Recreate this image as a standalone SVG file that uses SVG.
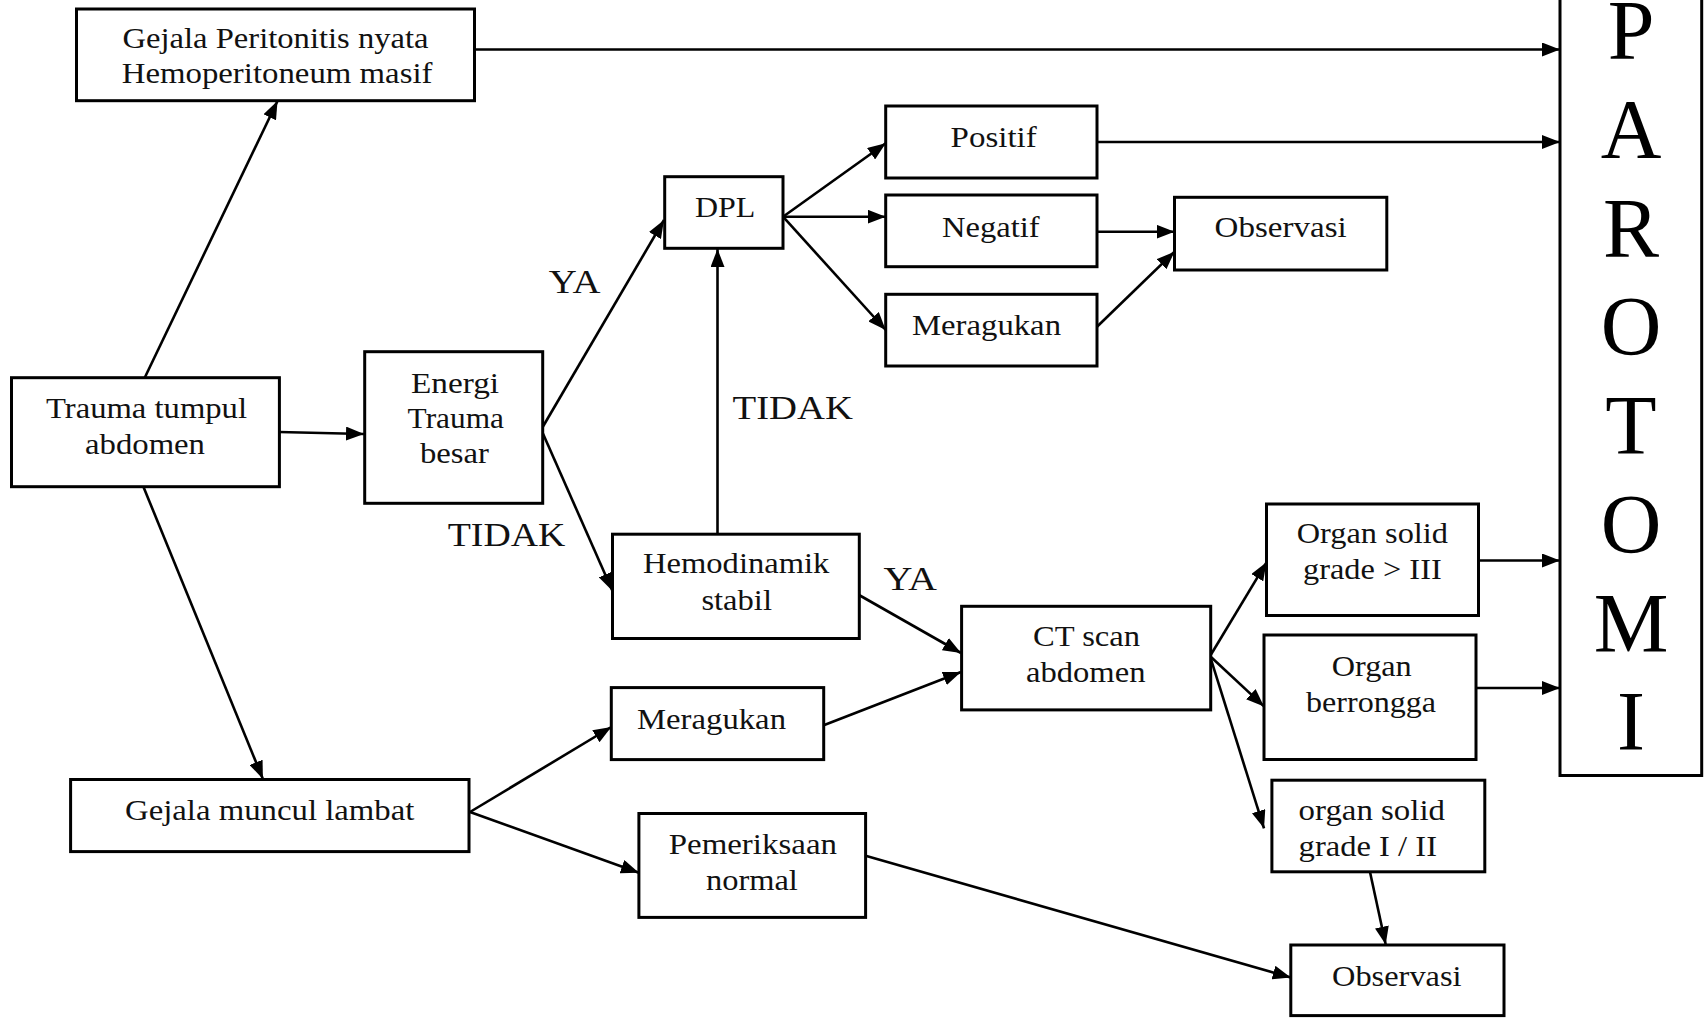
<svg xmlns="http://www.w3.org/2000/svg" width="1705" height="1018" viewBox="0 0 1705 1018">
<style>
.box{fill:#fff;stroke:#000;stroke-width:3}
.c{fill:none;stroke:#000;stroke-width:2.6}
.t{font-family:"Liberation Serif","Times New Roman",serif;font-size:29px;fill:#111}
.lbl{font-family:"Liberation Serif","Times New Roman",serif;font-size:34px;fill:#111}
.big{font-family:"Liberation Serif","Times New Roman",serif;font-size:84px;fill:#000;text-anchor:middle}
</style>
<defs>
<marker id="ah" markerUnits="userSpaceOnUse" markerWidth="20" markerHeight="14" refX="18" refY="7" orient="auto">
<path d="M0,0 L18,7 L0,14 Z" fill="#000"/>
</marker>
</defs>
<rect width="1705" height="1018" fill="#fff"/>
<g id="connectors">
<path class="c" marker-end="url(#ah)" d="M144.7,377.7 L277.5,101"/>
<path class="c" marker-end="url(#ah)" d="M279,432 L364,434"/>
<path class="c" marker-end="url(#ah)" d="M143.5,487 L262.9,779"/>
<path class="c" marker-end="url(#ah)" d="M474.5,49.5 L1560,49.5"/>
<path class="c" marker-end="url(#ah)" d="M542.7,427 L664,220"/>
<path class="c" marker-end="url(#ah)" d="M542.7,433 L612.5,591"/>
<path class="c" marker-end="url(#ah)" d="M717.5,534 L717.5,249"/>
<path class="c" marker-end="url(#ah)" d="M783,216.7 L885.7,143.3"/>
<path class="c" marker-end="url(#ah)" d="M783,216.7 L885.7,216.7"/>
<path class="c" marker-end="url(#ah)" d="M783,216.7 L885.7,330"/>
<path class="c" marker-end="url(#ah)" d="M1097,142 L1560,142"/>
<path class="c" marker-end="url(#ah)" d="M1097,231.7 L1174.5,231.7"/>
<path class="c" marker-end="url(#ah)" d="M1097,326.7 L1174.5,251.7"/>
<path class="c" marker-end="url(#ah)" d="M859,595 L961,653"/>
<path class="c" marker-end="url(#ah)" d="M823.7,725.3 L961,672"/>
<path class="c" marker-end="url(#ah)" d="M470,812 L611.3,727"/>
<path class="c" marker-end="url(#ah)" d="M470,812 L638.9,872.8"/>
<path class="c" marker-end="url(#ah)" d="M865.6,855.7 L1290.8,977.5"/>
<path class="c" marker-end="url(#ah)" d="M1210.7,655 L1266.5,562.3"/>
<path class="c" marker-end="url(#ah)" d="M1210.7,656.7 L1264,706.4"/>
<path class="c" marker-end="url(#ah)" d="M1210.7,658.4 L1264,828.3"/>
<path class="c" marker-end="url(#ah)" d="M1370,872 L1385.7,944.5"/>
<path class="c" marker-end="url(#ah)" d="M1478.5,560.5 L1560,560.5"/>
<path class="c" marker-end="url(#ah)" d="M1476,688 L1560,688"/>
</g>
<g id="labels">
<text class="lbl" x="548.8" y="293.3" textLength="51.7" lengthAdjust="spacingAndGlyphs">YA</text>
<text class="lbl" x="732.5" y="419.3" textLength="120.5" lengthAdjust="spacingAndGlyphs">TIDAK</text>
<text class="lbl" x="447.7" y="546" textLength="117.7" lengthAdjust="spacingAndGlyphs">TIDAK</text>
<text class="lbl" x="883.5" y="589.8" textLength="53.5" lengthAdjust="spacingAndGlyphs">YA</text>
</g>
<g id="n-gejala-peritonitis">
<rect class="box" x="76.5" y="9" width="398" height="91.7"/>
<text class="t" x="122.5" y="48" textLength="306" lengthAdjust="spacingAndGlyphs">Gejala Peritonitis nyata</text>
<text class="t" x="121.7" y="83" textLength="310.8" lengthAdjust="spacingAndGlyphs">Hemoperitoneum masif</text>
</g>
<g id="n-trauma">
<rect class="box" x="11.5" y="377.7" width="267.9" height="109"/>
<text class="t" x="46" y="418" textLength="201" lengthAdjust="spacingAndGlyphs">Trauma tumpul</text>
<text class="t" x="85" y="454" textLength="120" lengthAdjust="spacingAndGlyphs">abdomen</text>
</g>
<g id="n-energi">
<rect class="box" x="364.7" y="351.7" width="178" height="151.6"/>
<text class="t" x="411" y="393" textLength="88" lengthAdjust="spacingAndGlyphs">Energi</text>
<text class="t" x="407.6" y="428" textLength="96.4" lengthAdjust="spacingAndGlyphs">Trauma</text>
<text class="t" x="420" y="463" textLength="69" lengthAdjust="spacingAndGlyphs">besar</text>
</g>
<g id="n-dpl">
<rect class="box" x="664.7" y="176.7" width="118.3" height="71.6"/>
<text class="t" x="695" y="217" textLength="60.4" lengthAdjust="spacingAndGlyphs">DPL</text>
</g>
<g id="n-positif">
<rect class="box" x="885.7" y="106" width="211.3" height="72"/>
<text class="t" x="950.6" y="146.7" textLength="86.1" lengthAdjust="spacingAndGlyphs">Positif</text>
</g>
<g id="n-negatif">
<rect class="box" x="885.7" y="195" width="211.3" height="71.7"/>
<text class="t" x="942" y="236.7" textLength="97.6" lengthAdjust="spacingAndGlyphs">Negatif</text>
</g>
<g id="n-meragukan1">
<rect class="box" x="885.7" y="294.3" width="211.3" height="71.7"/>
<text class="t" x="912" y="335" textLength="149" lengthAdjust="spacingAndGlyphs">Meragukan</text>
</g>
<g id="n-observasi1">
<rect class="box" x="1174.5" y="197.3" width="212.3" height="72.7"/>
<text class="t" x="1214.6" y="237.3" textLength="132.1" lengthAdjust="spacingAndGlyphs">Observasi</text>
</g>
<g id="n-hemodinamik">
<rect class="box" x="612.5" y="534.2" width="246.8" height="104.3"/>
<text class="t" x="643" y="572.6" textLength="186.4" lengthAdjust="spacingAndGlyphs">Hemodinamik</text>
<text class="t" x="701.4" y="610.4" textLength="70.6" lengthAdjust="spacingAndGlyphs">stabil</text>
</g>
<g id="n-ctscan">
<rect class="box" x="961.6" y="606.3" width="249.1" height="103.6"/>
<text class="t" x="1033" y="646.4" textLength="107" lengthAdjust="spacingAndGlyphs">CT scan</text>
<text class="t" x="1026" y="681.7" textLength="119.5" lengthAdjust="spacingAndGlyphs">abdomen</text>
</g>
<g id="n-organ-solid">
<rect class="box" x="1266.5" y="504" width="212" height="111.5"/>
<text class="t" x="1296.7" y="543" textLength="151.3" lengthAdjust="spacingAndGlyphs">Organ solid</text>
<text class="t" x="1303" y="579" textLength="138.7" lengthAdjust="spacingAndGlyphs">grade &gt; III</text>
</g>
<g id="n-berrongga">
<rect class="box" x="1264" y="635" width="212" height="124.5"/>
<text class="t" x="1331.7" y="676" textLength="80" lengthAdjust="spacingAndGlyphs">Organ</text>
<text class="t" x="1306" y="711.7" textLength="130" lengthAdjust="spacingAndGlyphs">berrongga</text>
</g>
<g id="n-grade-i-ii">
<rect class="box" x="1271.9" y="780.2" width="212.9" height="91.6"/>
<text class="t" x="1298.6" y="819.7" textLength="146.4" lengthAdjust="spacingAndGlyphs">organ solid</text>
<text class="t" x="1298.6" y="855.7" textLength="138.4" lengthAdjust="spacingAndGlyphs">grade I / II</text>
</g>
<g id="n-observasi2">
<rect class="box" x="1290.8" y="945" width="213.2" height="70.6"/>
<text class="t" x="1332" y="986" textLength="129.6" lengthAdjust="spacingAndGlyphs">Observasi</text>
</g>
<g id="n-gejala-muncul">
<rect class="box" x="70.6" y="779.5" width="398.4" height="72.1"/>
<text class="t" x="125" y="819.7" textLength="289.4" lengthAdjust="spacingAndGlyphs">Gejala muncul lambat</text>
</g>
<g id="n-meragukan2">
<rect class="box" x="611.3" y="687.6" width="212.4" height="72"/>
<text class="t" x="637" y="728.7" textLength="149" lengthAdjust="spacingAndGlyphs">Meragukan</text>
</g>
<g id="n-pemeriksaan">
<rect class="box" x="638.9" y="813.5" width="226.7" height="103.9"/>
<text class="t" x="668.7" y="854" textLength="168.3" lengthAdjust="spacingAndGlyphs">Pemeriksaan</text>
<text class="t" x="706" y="890" textLength="91.9" lengthAdjust="spacingAndGlyphs">normal</text>
</g>
<g id="n-parotomi">
<rect class="box" x="1560" y="-5" width="141.7" height="780.5"/>
<text class="big" x="1631" y="59">P</text>
<text class="big" x="1631" y="158">A</text>
<text class="big" x="1631" y="257">R</text>
<text class="big" x="1631" y="355">O</text>
<text class="big" x="1631" y="454">T</text>
<text class="big" x="1631" y="553">O</text>
<text class="big" x="1631" y="652">M</text>
<text class="big" x="1631" y="750">I</text>
</g>
</svg>
